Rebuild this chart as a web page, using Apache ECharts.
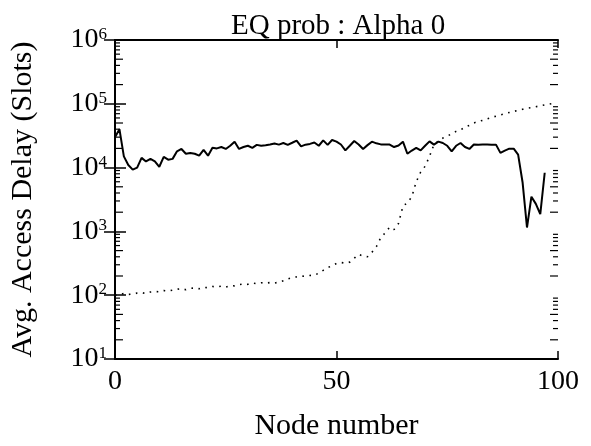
<!DOCTYPE html>
<html><head><meta charset="utf-8">
<script src="https://cdn.jsdelivr.net/npm/echarts@6/dist/echarts.min.js"></script>
<style>html,body{margin:0;padding:0;background:#fff}#c{width:591px;height:446px}</style>
</head><body><div id="c"></div>
<script>
// ---- data ----
const chartTitle = 'EQ prob : Alpha 0';
const xAxisTitle = 'Node number';
const yAxisTitle = 'Avg. Access Delay (Slots)';
const xTickLabels = [0, 50, 100];
const yTickValues = [10, 100, 1000, 10000, 100000, 1000000];
// solid line: node 0..97
const solidDelay = [
  3.0e4,4.0e4,1.5e4,1.1e4,9.3e3,1.0e4,1.42e4,1.25e4,1.37e4,1.25e4,
  1.03e4,1.47e4,1.33e4,1.37e4,1.8e4,1.96e4,1.65e4,1.7e4,1.65e4,1.54e4,
  1.9e4,1.54e4,2.04e4,2.0e4,2.1e4,1.96e4,2.2e4,2.55e4,1.96e4,2.1e4,
  2.2e4,2.04e4,2.27e4,2.2e4,2.24e4,2.3e4,2.38e4,2.29e4,2.43e4,2.27e4,
  2.45e4,2.65e4,2.15e4,2.29e4,2.35e4,2.48e4,2.2e4,2.67e4,2.27e4,2.71e4,
  2.55e4,2.3e4,1.86e4,2.2e4,2.61e4,2.3e4,1.96e4,2.25e4,2.55e4,2.4e4,
  2.31e4,2.31e4,2.3e4,2.1e4,2.22e4,2.55e4,1.65e4,1.85e4,2.04e4,1.86e4,
  2.2e4,2.58e4,2.29e4,2.55e4,2.43e4,2.2e4,1.8e4,2.2e4,2.43e4,2.1e4,
  1.96e4,2.3e4,2.29e4,2.3e4,2.3e4,2.28e4,2.29e4,1.7e4,1.85e4,1.98e4,
  1.98e4,1.6e4,5.9e3,1.15e3,3.5e3,2.7e3,1.86e3,8.3e3
];
// dotted line: node 0..99
const dottedDelay = [
  100,102,107,103,104,108,110,106,112,114,
  113,118,116,120,124,127,122,128,130,126,
  133,131,137,135,139,134,141,140,146,150,
  148,155,152,157,154,158,155,160,168,180,
  189,194,200,198,204,205,222,245,270,290,
  315,325,318,330,380,437,410,400,470,577,
  800,950,1170,1070,1330,2500,2800,3500,6000,8500,
  1.05e4,1.5e4,2.3e4,2.6e4,2.9e4,3.1e4,3.4e4,3.7e4,3.9e4,4.3e4,
  4.6e4,5.0e4,5.3e4,5.5e4,5.8e4,6.1e4,6.4e4,6.7e4,7.0e4,7.3e4,
  7.6e4,7.9e4,8.2e4,8.5e4,8.7e4,9.0e4,9.3e4,9.6e4,9.9e4,1.02e5
];

const FONT = 'Liberation Serif';
const minorMult = [2,3,4,5,6,7,8,9];
const minorTicks = [];
yTickValues.slice(0, -1).forEach(function (base) {
  minorMult.forEach(function (m) { minorTicks.push([0, base * m, (m === 2 || m === 5) ? 8 : 5]); });
});

const chart = echarts.init(document.getElementById('c'), null, {renderer: 'canvas'});
const yLabel = {
  show: true, margin: 8,
  formatter: function (v) { return '{b|10}{s|' + Math.round(Math.log10(v)) + '}'; },
  rich: {
    b: {fontFamily: FONT, fontSize: 28, color: '#000', lineHeight: 28, verticalAlign: 'middle'},
    s: {fontFamily: FONT, fontSize: 17, color: '#000', lineHeight: 17, verticalAlign: 'top'}
  }
};
chart.setOption({
  animation: false,
  backgroundColor: '#fff',
  title: {
    text: chartTitle, left: 226, top: 7,
    textStyle: {fontFamily: FONT, fontSize: 29, fontWeight: 'normal', color: '#000'}
  },
  grid: {left: 115, right: 33, top: 40, bottom: 86},
  xAxis: [{
    type: 'value', min: 0, max: 100, interval: 50, position: 'bottom',
    name: xAxisTitle, nameLocation: 'middle', nameGap: 52,
    nameTextStyle: {fontFamily: FONT, fontSize: 30, color: '#000'},
    axisLine: {show: true, lineStyle: {color: '#000', width: 2}},
    axisTick: {show: true, inside: true, length: 8, lineStyle: {color: '#000', width: 1.5}},
    axisLabel: {fontFamily: FONT, fontSize: 28, color: '#000', margin: 9,
      formatter: function (v) { return xTickLabels.indexOf(v) >= 0 ? String(v) : ''; }},
    splitLine: {show: false}
  }, {
    type: 'value', min: 0, max: 100, interval: 50, position: 'top',
    axisLine: {show: true, lineStyle: {color: '#000', width: 2}},
    axisTick: {show: true, inside: true, length: 8, lineStyle: {color: '#000', width: 1.5}},
    axisLabel: {show: false}, splitLine: {show: false}
  }],
  yAxis: [{
    type: 'log', logBase: 10, min: 10, max: 1e6, position: 'left',
    name: yAxisTitle, nameLocation: 'middle', nameGap: 77,
    nameTextStyle: {fontFamily: FONT, fontSize: 30, color: '#000'},
    axisLine: {show: true, lineStyle: {color: '#000', width: 2}},
    axisTick: {show: true, inside: true, length: 11, lineStyle: {color: '#000', width: 1.5}},
    axisLabel: yLabel,
    splitLine: {show: false}
  }, {
    type: 'log', logBase: 10, min: 10, max: 1e6, position: 'right',
    axisLine: {show: true, lineStyle: {color: '#000', width: 2}},
    axisTick: {show: true, inside: true, length: 11, lineStyle: {color: '#000', width: 1.5}},
    axisLabel: {show: false}, splitLine: {show: false}
  }],
  series: [{
    type: 'custom', xAxisIndex: 0, yAxisIndex: 0, silent: true,
    encode: {x: 0, y: 1},
    data: minorTicks,
    renderItem: function (params, api) {
      const v = api.value(1), len = api.value(2);
      const pL = api.coord([0, v]), pR = api.coord([100, v]);
      return {type: 'group', children: [
        {type: 'line', shape: {x1: pL[0], y1: pL[1], x2: pL[0] + len, y2: pL[1]}, style: {stroke: '#000', lineWidth: 1.2}},
        {type: 'line', shape: {x1: pR[0] - len, y1: pR[1], x2: pR[0], y2: pR[1]}, style: {stroke: '#000', lineWidth: 1.2}}
      ]};
    }
  }, {
    type: 'line', name: 'solid', xAxisIndex: 0, yAxisIndex: 0,
    data: solidDelay.map(function (v, i) { return [i, v]; }),
    showSymbol: false, symbol: 'none',
    lineStyle: {color: '#000', width: 2}
  }, {
    type: 'line', name: 'dotted', xAxisIndex: 0, yAxisIndex: 0,
    data: dottedDelay.map(function (v, i) { return [i, v]; }),
    showSymbol: false, symbol: 'none',
    lineStyle: {color: '#000', width: 1.6, type: [1.6, 5.5], cap: 'butt'}
  }]
});
</script>
</body></html>
